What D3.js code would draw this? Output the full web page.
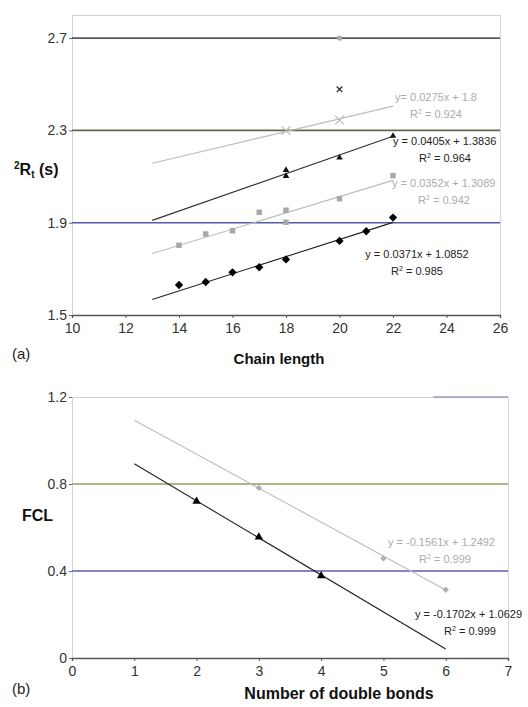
<!DOCTYPE html>
<html>
<head>
<meta charset="utf-8">
<script src="https://cdn.jsdelivr.net/npm/d3@7"></script>
<style>
  html, body { margin: 0; padding: 0; background: #fff; }
  svg { display: block; font-family: "Liberation Sans", Arial, sans-serif; }
</style>
</head>
<body>
<svg id="chart" width="528" height="707"></svg>
<script>
// ---------- Panel (a): retention vs chain length ----------
const chainTicks = [10, 12, 14, 16, 18, 20, 22, 24, 26];
const rtTicks = [1.5, 1.9, 2.3, 2.7];

const diamondX = [14, 15, 16, 17, 18, 20, 21, 22];
const diamondY = [1.630, 1.643, 1.685, 1.707, 1.741, 1.821, 1.863, 1.922];

const squareX = [14, 15, 16, 17, 18, 18, 20, 22];
const squareY = [1.802, 1.851, 1.865, 1.945, 1.954, 1.902, 2.004, 2.104];

const triangleX = [18, 18, 20, 22];
const triangleY = [2.128, 2.102, 2.182, 2.276];

const crossX = [18, 20];
const crossY = [2.299, 2.345];

const blackCrossX = [20];
const blackCrossY = [2.478];
const greyDotX = [20];
const greyDotY = [2.70];

// fitted lines: slope, intercept, R²
const fitsA = [
  { slope: 0.0275, icpt: 1.8,    r2: "0.924", lead: "y= " },
  { slope: 0.0405, icpt: 1.3836, r2: "0.964", lead: "y = " },
  { slope: 0.0352, icpt: 1.3089, r2: "0.942", lead: "y = " },
  { slope: 0.0371, icpt: 1.0852, r2: "0.985", lead: "y = " }
];
const fitRangeA = [13, 22];

// ---------- Panel (b): FCL vs number of double bonds ----------
const bondTicks = [0, 1, 2, 3, 4, 5, 6, 7];
const fclTicks = [0, 0.4, 0.8, 1.2];

const bTriX = [2, 3, 4];
const bTriY = [0.720, 0.556, 0.378];
const bDiaX = [3, 5, 6];
const bDiaY = [0.782, 0.458, 0.314];

const fitsB = [
  { slope: -0.1561, icpt: 1.2492, r2: "0.999", lead: "y = " },
  { slope: -0.1702, icpt: 1.0629, r2: "0.999", lead: "y = " }
];
const fitRangeB = [1, 6];

const C = { text: "#333", lightText: "#ababab" };

const svg = d3.select("#chart");

// ---------- helpers ----------
function frame(g, x, y) {
  const [x0, x1] = x.range(), [y0, y1] = y.range();
  g.append("line").attr("x1", x0).attr("x2", x1).attr("y1", y1 + 0.5).attr("y2", y1 + 0.5)
    .attr("stroke", "#cfcfcf").attr("stroke-width", 1);
  g.append("line").attr("x1", x1 + 0.5).attr("x2", x1 + 0.5).attr("y1", y1).attr("y2", y0)
    .attr("stroke", "#d4d4e4").attr("stroke-width", 1);
  g.append("line").attr("x1", x0 + 0.5).attr("x2", x0 + 0.5).attr("y1", y1).attr("y2", y0)
    .attr("stroke", "#d0d0d8").attr("stroke-width", 1);
}

function hLine(g, x, y, v, color, w, from, to) {
  const xs = x.range();
  g.append("line")
    .attr("x1", from !== undefined ? x(from) : xs[0])
    .attr("x2", to !== undefined ? x(to) : xs[1])
    .attr("y1", y(v)).attr("y2", y(v))
    .attr("stroke", color).attr("stroke-width", w);
}

function axes(g, x, y, xt, yt, yFmt) {
  const xa = d3.axisBottom(x).tickValues(xt).tickSize(3).tickPadding(5).tickFormat(d3.format("d"));
  const gx = g.append("g").attr("transform", `translate(0,${y.range()[0]})`).call(xa);
  gx.select(".domain").attr("stroke", "#555").attr("stroke-width", 1.4);
  gx.selectAll(".tick line").attr("stroke", "#555");
  gx.selectAll("text").attr("fill", C.text).style("font-size", "14px");

  const ya = d3.axisLeft(y).tickValues(yt).tickSize(3).tickPadding(2).tickFormat(yFmt);
  const gy = g.append("g").attr("transform", `translate(${x.range()[0]},0)`).call(ya);
  gy.select(".domain").remove();
  gy.selectAll(".tick line").attr("stroke", "#666");
  gy.selectAll("text").attr("fill", C.text).style("font-size", "14px");
}

function fitLine(g, x, y, f, range, color) {
  g.append("line")
    .attr("x1", x(range[0])).attr("y1", y(f.slope * range[0] + f.icpt))
    .attr("x2", x(range[1])).attr("y2", y(f.slope * range[1] + f.icpt))
    .attr("stroke", color).attr("stroke-width", 1.1);
}

function eqLabel(g, f, cx, cy, color, anchorX) {
  const sign = f.icpt < 0 ? "-" : "+";
  g.append("text").attr("x", anchorX !== undefined ? anchorX : cx).attr("y", cy)
    .attr("text-anchor", anchorX !== undefined ? "start" : "middle")
    .attr("fill", color).style("font-size", "11px")
    .text(`${f.lead}${f.slope}x ${sign} ${Math.abs(f.icpt)}`);
  const r = g.append("text").attr("x", cx).attr("y", cy + 17).attr("text-anchor", "middle")
    .attr("fill", color).style("font-size", "11px");
  r.append("tspan").text("R");
  r.append("tspan").attr("dy", -4).style("font-size", "7px").text("2");
  r.append("tspan").attr("dy", 4).text(` = ${f.r2}`);
}

const sym = (type, size) => d3.symbol().type(type).size(size)();

function points(g, x, y, xs, ys, type, size, fill, stroke) {
  g.selectAll(null).data(xs.map((d, i) => [d, ys[i]])).join("path")
    .attr("transform", d => `translate(${x(d[0])},${y(d[1])})`)
    .attr("d", sym(type, size))
    .attr("fill", fill).attr("stroke", stroke || "none").attr("stroke-width", 1.2);
}

// ---------- Panel (a) ----------
{
  const g = svg.append("g");
  const x = d3.scaleLinear().domain([10, 26]).range([72, 500]);
  const y = d3.scaleLinear().domain([1.5, 2.8]).range([315, 15]);

  frame(g, x, y);
  hLine(g, x, y, 2.7, "#505868", 1.6);
  hLine(g, x, y, 2.3, "#66664c", 1.6);
  hLine(g, x, y, 1.9, "#5858a8", 1.4);
  axes(g, x, y, chainTicks, rtTicks, d3.format(".1f"));

  const lineColors = ["#bcbcbc", "#333", "#bcbcbc", "#222"];
  fitsA.forEach((f, i) => fitLine(g, x, y, f, fitRangeA, lineColors[i]));

  points(g, x, y, diamondX, diamondY, d3.symbolDiamond2, 44, "#000");
  points(g, x, y, squareX, squareY, d3.symbolSquare, 30, "#a8a8a8");
  points(g, x, y, triangleX, triangleY, d3.symbolTriangle, 18, "#111");
  points(g, x, y, crossX, crossY, d3.symbolX, 50, "none", "#b8b8b8");
  points(g, x, y, blackCrossX, blackCrossY, d3.symbolX, 22, "none", "#222");
  points(g, x, y, greyDotX, greyDotY, d3.symbolCircle, 22, "#aaa");

  eqLabel(g, fitsA[0], 436, 101, C.lightText);
  eqLabel(g, fitsA[1], 445, 145, "#222", 393);
  eqLabel(g, fitsA[2], 444, 187, C.lightText, 392);
  eqLabel(g, fitsA[3], 417, 258, "#222");

  // y-axis title: ²Rt (s)
  const yt = g.append("text").attr("x", 14).attr("y", 175)
    .attr("fill", "#111").style("font-size", "16px").style("font-weight", "bold");
  yt.append("tspan").attr("dy", -6).style("font-size", "10px").text("2");
  yt.append("tspan").attr("dy", 6).text("R");
  yt.append("tspan").attr("dy", 3).style("font-size", "10px").text("t");
  yt.append("tspan").attr("dy", -3).text(" (s)");

  g.append("text").attr("x", 279).attr("y", 364).attr("text-anchor", "middle")
    .attr("fill", "#111").style("font-size", "15px").style("font-weight", "bold").text("Chain length");
  g.append("text").attr("x", 12).attr("y", 359)
    .attr("fill", "#222").style("font-size", "15px").text("(a)");
}

// ---------- Panel (b) ----------
{
  const g = svg.append("g");
  const x = d3.scaleLinear().domain([0, 7]).range([72, 508]);
  const y = d3.scaleLinear().domain([0, 1.2]).range([658, 397]);

  frame(g, x, y);
  hLine(g, x, y, 1.2, "#9a9ac4", 1.6, 5.8, 7);
  hLine(g, x, y, 0.8, "#9a9a5c", 1.4);
  hLine(g, x, y, 0.4, "#5c5cb4", 1.4);
  axes(g, x, y, bondTicks, fclTicks, d => d === 0 ? "0" : d3.format(".1f")(d));

  fitLine(g, x, y, fitsB[0], fitRangeB, "#bcbcbc");
  fitLine(g, x, y, fitsB[1], fitRangeB, "#222");

  points(g, x, y, bDiaX, bDiaY, d3.symbolDiamond2, 26, "#b0b0b0");
  points(g, x, y, bTriX, bTriY, d3.symbolTriangle, 30, "#000");

  eqLabel(g, fitsB[0], 445, 546, C.lightText, 388);
  eqLabel(g, fitsB[1], 470, 618, "#222", 415);

  g.append("text").attr("x", 22).attr("y", 521)
    .attr("fill", "#111").style("font-size", "16px").style("font-weight", "bold").text("FCL");
  g.append("text").attr("x", 339).attr("y", 699).attr("text-anchor", "middle")
    .attr("fill", "#111").style("font-size", "16px").style("font-weight", "bold").text("Number of double bonds");
  g.append("text").attr("x", 12).attr("y", 694)
    .attr("fill", "#222").style("font-size", "15px").text("(b)");
}
</script>
</body>
</html>
